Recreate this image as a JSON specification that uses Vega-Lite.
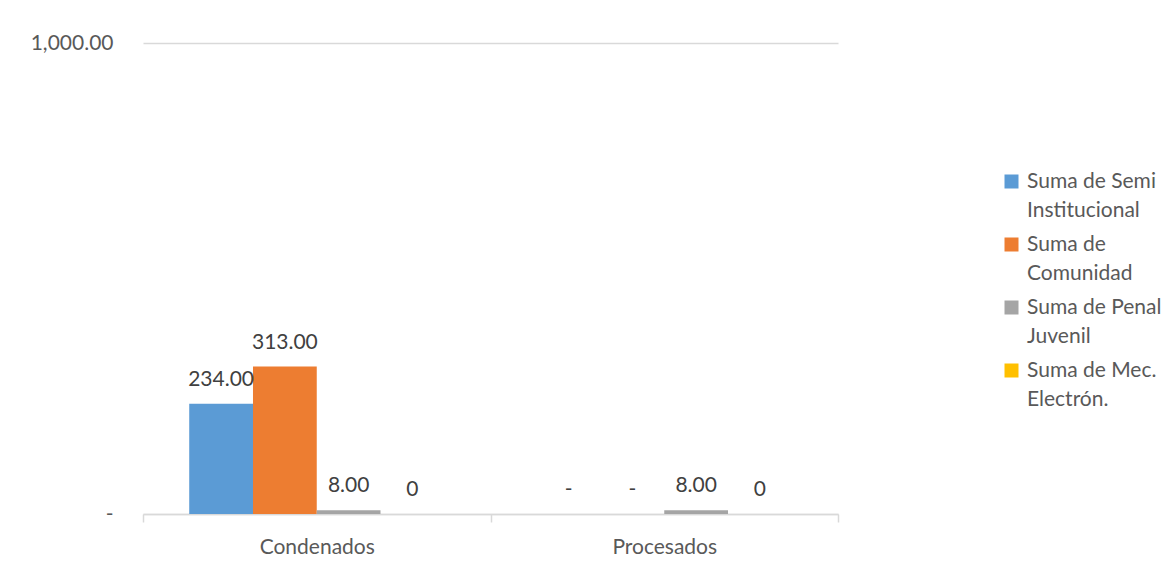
{
  "$schema": "https://vega.github.io/schema/vega-lite/v6.json",
  "width": 695,
  "height": 471,
  "autosize": {"type": "none"},
  "padding": {"left": 143, "top": 43, "right": 337, "bottom": 55},
  "background": "white",
  "config": {"view": {"stroke": null}, "font": "Lato"},
  "data": {
    "values": [
      {"categoria": "Condenados", "serie": "Suma de Semi Institucional", "valor": 234, "etiqueta": "234.00"},
      {"categoria": "Condenados", "serie": "Suma de Comunidad", "valor": 313, "etiqueta": "313.00"},
      {"categoria": "Condenados", "serie": "Suma de Penal Juvenil", "valor": 8, "etiqueta": "8.00"},
      {"categoria": "Condenados", "serie": "Suma de Mec. Electrón.", "valor": 0, "etiqueta": "0"},
      {"categoria": "Procesados", "serie": "Suma de Semi Institucional", "valor": 0, "etiqueta": "-"},
      {"categoria": "Procesados", "serie": "Suma de Comunidad", "valor": 0, "etiqueta": "-"},
      {"categoria": "Procesados", "serie": "Suma de Penal Juvenil", "valor": 8, "etiqueta": "8.00"},
      {"categoria": "Procesados", "serie": "Suma de Mec. Electrón.", "valor": 0, "etiqueta": "0"}
    ]
  },
  "encoding": {
    "x": {
      "field": "categoria",
      "type": "nominal",
      "sort": ["Condenados", "Procesados"],
      "scale": {"paddingInner": 0, "paddingOuter": 0},
      "axis": {
        "title": null,
        "labelAngle": 0,
        "labelFontSize": 21,
        "labelColor": "#595959",
        "domainColor": "#d9d9d9",
        "domainWidth": 1.5,
        "tickColor": "#d9d9d9",
        "tickWidth": 1.5,
        "tickSize": 8,
        "tickBand": "extent",
        "labelPadding": 14,
        "grid": false
      }
    },
    "xOffset": {
      "field": "serie",
      "type": "nominal",
      "sort": ["Suma de Semi Institucional", "Suma de Comunidad", "Suma de Penal Juvenil", "Suma de Mec. Electrón."],
      "scale": {"paddingInner": 0, "paddingOuter": 0.725}
    },
    "y": {
      "field": "valor",
      "type": "quantitative",
      "scale": {"domain": [0, 1000]},
      "axis": {
        "title": null,
        "values": [0, 1000],
        "labelExpr": "datum.value == 0 ? '-' : format(datum.value, ',.2f')",
        "domain": false,
        "ticks": false,
        "labelPadding": 30,
        "gridColor": "#d9d9d9",
        "gridWidth": 1.5,
        "labelFontSize": 21,
        "labelColor": "#595959"
      }
    }
  },
  "layer": [
    {
      "mark": {"type": "bar"},
      "encoding": {
        "color": {
          "field": "serie",
          "type": "nominal",
          "sort": ["Suma de Semi Institucional", "Suma de Comunidad", "Suma de Penal Juvenil", "Suma de Mec. Electrón."],
          "scale": {
            "domain": ["Suma de Semi Institucional", "Suma de Comunidad", "Suma de Penal Juvenil", "Suma de Mec. Electrón."],
            "range": ["#5B9BD5", "#ED7D31", "#A5A5A5", "#FFC000"]
          },
          "legend": {
            "title": null,
            "orient": "none",
            "legendX": 858,
            "legendY": 128,
            "symbolType": "square",
            "symbolSize": 196,
            "symbolStrokeWidth": 0,
            "symbolOpacity": 1,
            "labelFontSize": 21,
            "labelColor": "#595959",
            "labelOffset": 5,
            "rowPadding": 12,
            "labelExpr": "datum.label == 'Suma de Semi Institucional' ? ['Suma de Semi', 'Institucional'] : datum.label == 'Suma de Comunidad' ? ['Suma de', 'Comunidad'] : datum.label == 'Suma de Penal Juvenil' ? ['Suma de Penal', 'Juvenil'] : ['Suma de Mec.', 'Electrón.']",
            "labelLimit": 300,
            "encode": {
              "labels": {"update": {"lineHeight": {"value": 29}}}
            }
          }
        }
      }
    },
    {
      "mark": {"type": "text", "dy": -24, "fontSize": 21, "color": "#404040"},
      "encoding": {"text": {"field": "etiqueta", "type": "nominal"}}
    }
  ]
}
